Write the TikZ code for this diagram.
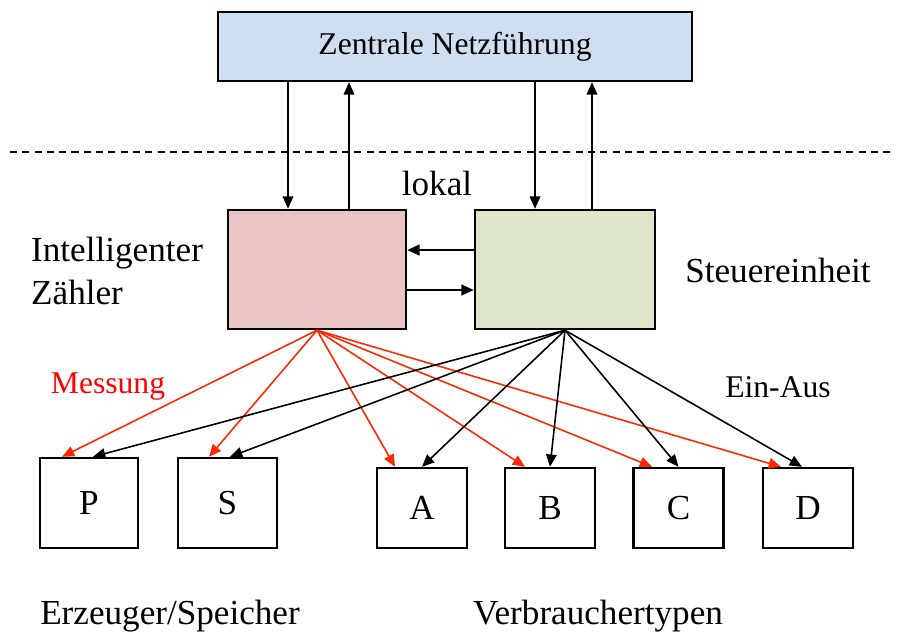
\documentclass[tikz,border=0pt]{standalone}
\usepackage{fontspec}
\setmainfont{Liberation Serif}
\usetikzlibrary{arrows.meta}

\definecolor{netzblau}{RGB}{207,222,241}
\definecolor{zaehlerrot}{RGB}{235,197,197}
\definecolor{steuergruen}{RGB}{221,230,201}
\definecolor{messrot}{RGB}{255,40,0}

\begin{document}
\begin{tikzpicture}[x=0.02cm,y=-0.02cm,
    block/.style={draw=black,line width=1.4pt,inner sep=0pt},
    pfeil/.style={line width=0.9pt,-{Triangle[length=7pt,width=6pt]}},
    mess/.style={pfeil,draw=messrot,-{Triangle[length=7pt,width=6pt,fill=messrot]}},
    gross/.style={font=\fontsize{20}{24}\selectfont},
    klein/.style={font=\fontsize{18}{22}\selectfont}
  ]
    \useasboundingbox (0,0) rectangle (899,637);

    % Bloecke
    \node[block,fill=netzblau,minimum width=9.48cm,minimum height=1.38cm,klein] (netz) at (455,46.5) {Zentrale Netzführung};
    \node[block,fill=zaehlerrot,minimum width=3.56cm,minimum height=2.38cm] (zaehler) at (317,269.5) {};
    \node[block,fill=steuergruen,minimum width=3.6cm,minimum height=2.38cm] (steuer) at (565,269.5) {};

    \node[block,minimum width=1.96cm,minimum height=1.8cm,gross] (P) at (89,503) {P};
    \node[block,minimum width=1.98cm,minimum height=1.8cm,gross] (S) at (227.5,503) {S};
    \node[block,minimum width=1.8cm,minimum height=1.6cm,gross] (A) at (422,508) {A};
    \node[block,minimum width=1.8cm,minimum height=1.6cm,gross] (B) at (550,508) {B};
    \node[block,minimum width=1.8cm,minimum height=1.6cm,gross] (C) at (678.5,508) {C};
    \node[block,minimum width=1.8cm,minimum height=1.6cm,gross] (D) at (808,508) {D};

    % Grenze zentral / lokal
    \draw[dashed,line width=0.6pt,dash pattern=on 4pt off 3pt] (10,152) -- (895,152);

    % Beschriftungen
    \node[gross] (lokal) at (437,183) {lokal};
    \node[gross,anchor=west,align=left] (zlabel) at (25,271) {Intelligenter\\Zähler};
    \node[gross] (slabel) at (778,270) {Steuereinheit};
    \node[klein,text=red] (messung) at (108,387) {Messung};
    \node[klein] (einaus) at (778,387) {Ein-Aus};
    \node[gross] (erzeuger) at (170,616) {Erzeuger/Speicher};
    \node[gross] (verbraucher) at (598,616) {Verbrauchertypen};

    % Verbindungen zur Netzfuehrung
    \draw[pfeil] ([xshift=-0.58cm]zaehler.north |- netz.south) -- ([xshift=-0.58cm]zaehler.north);
    \draw[pfeil] ([xshift=0.64cm]zaehler.north) -- ([xshift=0.64cm]zaehler.north |- netz.south);
    \draw[pfeil] ([xshift=-0.6cm]steuer.north |- netz.south) -- ([xshift=-0.6cm]steuer.north);
    \draw[pfeil] ([xshift=0.54cm]steuer.north) -- ([xshift=0.54cm]steuer.north |- netz.south);

    % Zaehler <-> Steuereinheit
    \draw[pfeil,line width=1.3pt] ([yshift=0.39cm]steuer.west) -- ([yshift=0.39cm]steuer.west -| zaehler.east);
    \draw[pfeil,line width=1.3pt] ([yshift=-0.41cm]zaehler.east) -- ([yshift=-0.41cm]zaehler.east -| steuer.west);

    % Messung
    \draw[mess] (zaehler.south) -- ([xshift=-0.54cm]P.north);
    \draw[mess] (zaehler.south) -- ([xshift=-0.37cm]S.north);
    \draw[mess] (zaehler.south) -- ([xshift=-0.54cm]A.north);
    \draw[mess] (zaehler.south) -- ([xshift=-0.5cm]B.north);
    \draw[mess] (zaehler.south) -- ([xshift=-0.53cm]C.north);
    \draw[mess] (zaehler.south) -- ([xshift=-0.54cm]D.north);

    % Ein-Aus
    \draw[pfeil] (steuer.south) -- ([xshift=0.08cm]P.north);
    \draw[pfeil] (steuer.south) -- ([xshift=0.05cm]S.north);
    \draw[pfeil] (steuer.south) -- (A.north);
    \draw[pfeil] (steuer.south) -- (B.north);
    \draw[pfeil] (steuer.south) -- (C.north);
    \draw[pfeil] (steuer.south) -- ([xshift=-0.12cm]D.north);
\end{tikzpicture}
\end{document}
